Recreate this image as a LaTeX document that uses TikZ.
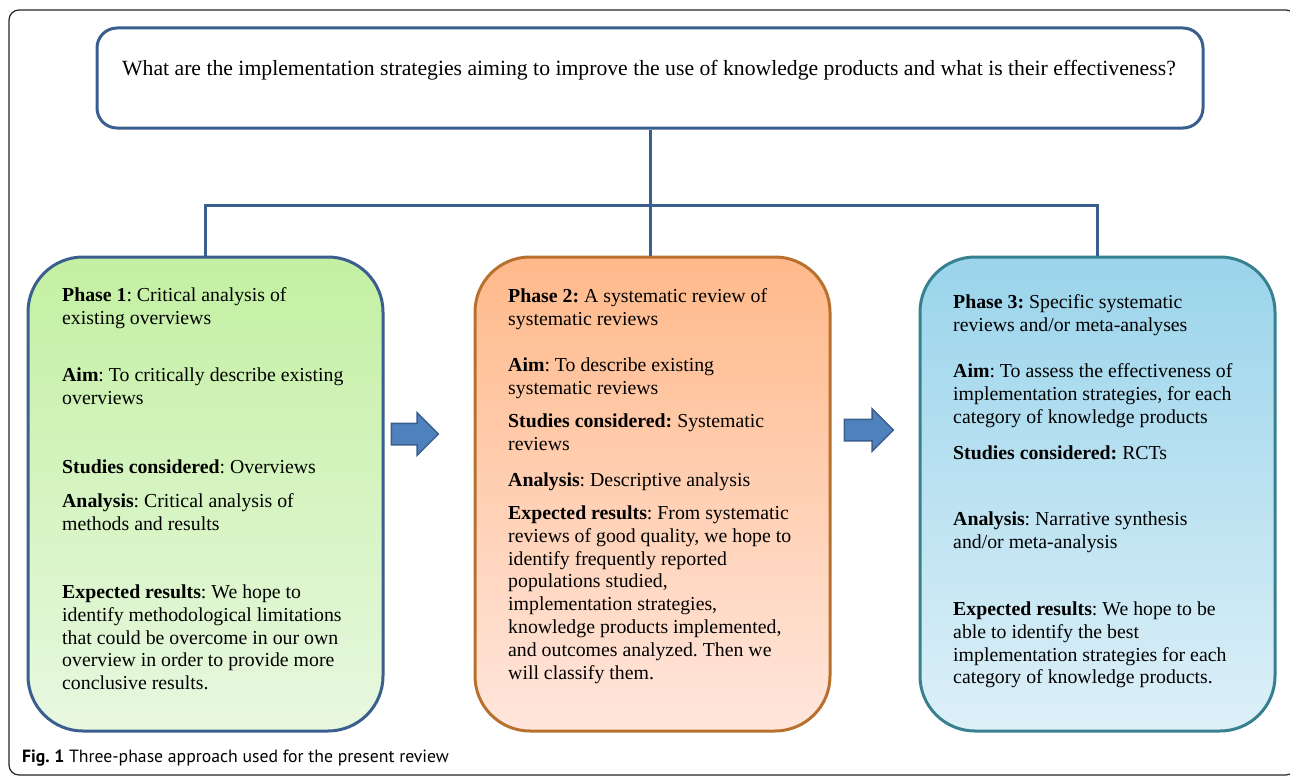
\documentclass[tikz,border=0pt]{standalone}
\usepackage{fontspec}
\setmainfont{Liberation Serif}
\newfontfamily\capfont{PT Sans}
\usetikzlibrary{positioning,shapes.arrows}
\frenchspacing

\definecolor{lineblue}{HTML}{3A5F8F}
\definecolor{arrowfill}{HTML}{4F81BD}
\definecolor{greentop}{HTML}{C3F0A2}
\definecolor{greenbot}{HTML}{E8F8E0}
\definecolor{orangetop}{HTML}{FFB98A}
\definecolor{orangebot}{HTML}{FFE6DC}
\definecolor{orangeedge}{HTML}{B8702F}
\definecolor{bluetop}{HTML}{9AD4EB}
\definecolor{bluebot}{HTML}{DDF0F8}
\definecolor{blueedge}{HTML}{37818F}

\tikzset{
  phasebox/.style={draw, line width=3pt, rounded corners=55pt,
    minimum width=355pt, minimum height=474pt, inner sep=0pt},
  % first baseline sits about at the given point
  para/.style={anchor=north west, align=left, inner sep=0pt, yshift=12.5pt,
    font=\fontsize{19.8}{22.8}\selectfont, execute at begin node=\strut},
  link/.style={draw=lineblue, line width=3pt},
  flowarrow/.style={single arrow, draw=lineblue, fill=arrowfill, line width=1.5pt,
    inner xsep=0pt, inner ysep=10pt, single arrow tip angle=90,
    single arrow head extend=10.5pt}
}

\begin{document}
\begin{tikzpicture}[x=1pt,y=-1pt]
\useasboundingbox (0,0) rectangle (1290,776);

% outer frame
\draw[line width=1.2pt, rounded corners=10pt, black!85] (9,10) rectangle (1296,775);

% question
\node[draw=lineblue, line width=3pt, rounded corners=20pt, minimum width=1106pt,
  minimum height=100pt] (question) at (650,78) {};
\node[anchor=base west, inner sep=0pt, font=\fontsize{21.7}{25}\selectfont] (qtext) at (122,75)
  {What are the implementation strategies aiming to improve the use of knowledge products and what is their effectiveness?};

% the three phases
\node[phasebox, draw=lineblue, top color=greentop, bottom color=greenbot] (phase1) at (205.5,494) {};
\node[phasebox, draw=orangeedge, top color=orangetop, bottom color=orangebot] (phase2) at (652.5,494) {};
\node[phasebox, draw=blueedge, top color=bluetop, bottom color=bluebot] (phase3) at (1097.5,494) {};

% tree
\coordinate (split) at (650,205);
\coordinate (leftend) at (205,205);
\coordinate (rightend) at (1097,205);
\draw[link] (question.south -| split) -- (split);
\draw[link] (phase1.north -| leftend) -- (leftend) -- (rightend) -- (phase3.north -| rightend);
\draw[link] (split) -- (phase2.north -| split);

% arrows
\node[flowarrow, minimum height=47pt] (next1) at (409.5,434) {};
\node[flowarrow, minimum height=49pt] (next2) at (863.5,430) {};

% phase 1
\node[para] (p1title) at (62,300) {\textbf{Phase 1}: Critical analysis of\\existing overviews};
\node[para] (p1aim) at (62,380) {\textbf{Aim}: To critically describe existing\\overviews};
\node[para] (p1studies) at (62,470) {\textbf{Studies considered}: Overviews};
\node[para] (p1analysis) at (62,506) {\textbf{Analysis}: Critical analysis of\\methods and results};
\node[para] (p1results) at (62,597) {\textbf{Expected results}: We hope to\\identify methodological limitations\\that could be overcome in our own\\overview in order to provide more\\conclusive results.};

% phase 2
\node[para] (p2title) at (508,301) {\textbf{Phase 2:} A systematic review of\\systematic reviews};
\node[para] (p2aim) at (508,370) {\textbf{Aim}: To describe existing\\systematic reviews};
\node[para] (p2studies) at (508,426) {\textbf{Studies considered:} Systematic\\reviews};
\node[para] (p2analysis) at (508,483) {\textbf{Analysis}: Descriptive analysis};
\node[para] (p2results) at (508,518) {\textbf{Expected results}: From systematic\\reviews of good quality, we hope to\\identify frequently reported\\populations studied,\\implementation strategies,\\knowledge products implemented,\\and outcomes analyzed. Then we\\will classify them.};

% phase 3
\node[para] (p3title) at (953,307) {\textbf{Phase 3:} Specific systematic\\reviews and/or meta-analyses};
\node[para] (p3aim) at (953,376) {\textbf{Aim}: To assess the effectiveness of\\implementation strategies, for each\\category of knowledge products};
\node[para] (p3studies) at (953,456) {\textbf{Studies considered:} RCTs};
\node[para] (p3analysis) at (953,524) {\textbf{Analysis}: Narrative synthesis\\and/or meta-analysis};
\node[para] (p3results) at (953,614) {\textbf{Expected results}: We hope to be\\able to identify the best\\implementation strategies for each\\category of knowledge products.};

% caption
\node[anchor=base west, inner sep=0pt, font=\capfont\fontsize{17.7}{20}\selectfont] (caption) at (22,762)
  {\textbf{Fig. 1} Three-phase approach used for the present review};
\end{tikzpicture}
\end{document}
